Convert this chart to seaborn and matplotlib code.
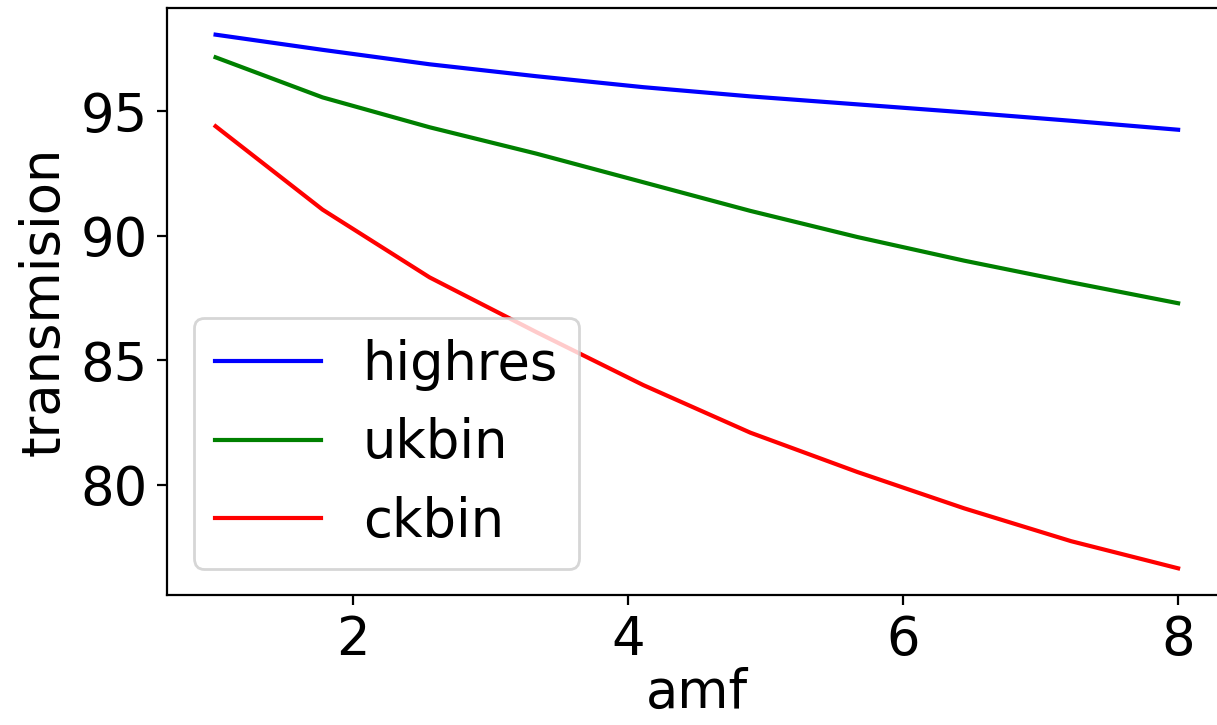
import numpy as np
import pandas as pd
import matplotlib
matplotlib.use("Agg")
import matplotlib.pyplot as plt
import seaborn as sns

# Air-mass factor grid and transmission (%) for each band model
amf = [1.0, 1.778, 2.556, 3.333, 4.111, 4.889, 5.667, 6.444, 7.222, 8.0]
highres = [98.08, 97.47, 96.89, 96.41, 95.97, 95.60, 95.28, 94.96, 94.62, 94.26]
ukbin = [97.17, 95.56, 94.36, 93.30, 92.15, 91.00, 89.95, 89.00, 88.13, 87.29]
ckbin = [94.40, 91.05, 88.33, 86.13, 84.00, 82.09, 80.51, 79.05, 77.73, 76.64]

series = ["highres", "ukbin", "ckbin"]
colors = {"highres": "b", "ukbin": "g", "ckbin": "r"}

df = pd.DataFrame({
    "amf": amf * 3,
    "transmision": highres + ukbin + ckbin,
    "model": [s for s in series for _ in amf],
})

plt.rcParams["font.family"] = ["DejaVu Sans"]
plt.rcParams["font.size"] = 19

fig = plt.figure(figsize=(6.085, 3.625), dpi=200)
ax = fig.add_axes([0.1376, 0.1793, 0.870, 0.8097])

for name in series:
    sub = df[df["model"] == name]
    sns.lineplot(data=sub, x="amf", y="transmision", color=colors[name],
                 label=name, linewidth=1.5, ax=ax)

ax.set_xticks([2, 4, 6, 8])
ax.set_yticks([80, 85, 90, 95])
ax.set_xlabel("amf", labelpad=0)
ax.set_ylabel("transmision")
ax.legend(loc="lower left", fontsize=19)

fig.savefig("out.png", dpi=200)
